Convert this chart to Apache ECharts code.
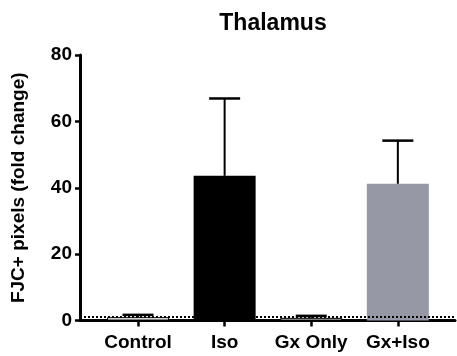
<!DOCTYPE html>
<html>
<head>
<meta charset="utf-8">
<script src="https://cdn.jsdelivr.net/npm/echarts@6/dist/echarts.min.js"></script>
<style>
  html, body { margin: 0; padding: 0; background: #fff; }
  #chart { width: 457px; height: 356px; }
</style>
</head>
<body>
<div id="chart"></div>
<script>
const categories = ["Control", "Iso", "Gx Only", "Gx+Iso"];
const means = [1.0, 43.6, 0.8, 41.2];
const errors = [0.7, 23.3, 0.6, 13.0];
const yTicks = [0, 20, 40, 60, 80];
const baseline = 1;

const fillColors = ["#ffffff", "#000000", "#ffffff", "#9698a5"];
const font = "Liberation Sans, Arial, sans-serif";

const chart = echarts.init(document.getElementById("chart"));

const barData = means.map((m, i) => ({
  value: [i, m],
  itemStyle: { color: fillColors[i], borderColor: "#000", borderWidth: fillColors[i] === "#ffffff" ? 1 : 0 },
}));
const errData = means.map((m, i) => [i, m, m + errors[i]]);

chart.setOption({
  animation: false,
  title: {
    text: "Thalamus",
    left: 268,
    textAlign: "center",
    top: 7,
    textStyle: { fontFamily: font, fontWeight: "bold", fontSize: 23, color: "#000" },
  },
  grid: { left: 80, right: 2, top: 55, bottom: 35.5 },
  xAxis: {
    type: "value",
    min: -0.67,
    max: 3.66,
    splitLine: { show: false },
    axisLine: { lineStyle: { color: "#000", width: 3 } },
    axisTick: { customValues: [0, 1, 2, 3], length: 6, lineStyle: { color: "#000", width: 2.5 } },
    axisLabel: {
      customValues: [0, 1, 2, 3],
      formatter: (v) => categories[Math.round(v)] || "",
      margin: 13,
      fontFamily: font, fontWeight: "bold", fontSize: 19, color: "#000",
    },
  },
  yAxis: {
    type: "value",
    min: yTicks[0],
    max: yTicks[yTicks.length - 1],
    interval: 20,
    name: "FJC+ pixels (fold change)",
    nameLocation: "middle",
    nameRotate: 90,
    nameGap: 52,
    nameTextStyle: { fontFamily: font, fontWeight: "bold", fontSize: 19, color: "#000" },
    splitLine: { show: false },
    axisLine: { show: true, onZero: false, lineStyle: { color: "#000", width: 3 } },
    axisTick: { show: true, length: 5, lineStyle: { color: "#000", width: 2.5 } },
    axisLabel: { margin: 8, fontFamily: font, fontWeight: "bold", fontSize: 19, color: "#000" },
  },
  series: [
    {
      type: "line",
      data: [],
      z: 1,
      markLine: {
        silent: true,
        symbol: "none",
        label: { show: false },
        lineStyle: { color: "#000", type: [2, 2], width: 2 },
        data: [{ yAxis: baseline }],
      },
    },
    {
      type: "bar",
      data: barData,
      barWidth: 62,
      z: 2,
    },
    {
      type: "custom",
      z: 3,
      data: errData,
      renderItem: (params, api) => {
        const base = api.coord([api.value(0), api.value(1)]);
        const top = api.coord([api.value(0), api.value(2)]);
        const half = 15.5;
        return {
          type: "group",
          children: [
            { type: "line", shape: { x1: base[0], y1: base[1], x2: top[0], y2: top[1] }, style: { stroke: "#000", lineWidth: 2 } },
            { type: "line", shape: { x1: top[0] - half, y1: top[1], x2: top[0] + half, y2: top[1] }, style: { stroke: "#000", lineWidth: 2.5 } },
          ],
        };
      },
    },
  ],
});
</script>
</body>
</html>
